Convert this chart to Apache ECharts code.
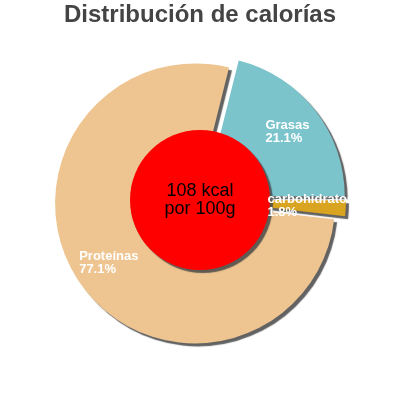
<!DOCTYPE html>
<html>
<head>
<meta charset="utf-8">
<script src="https://cdn.jsdelivr.net/npm/echarts@6/dist/echarts.min.js"></script>
<style>html,body{margin:0;padding:0;background:#fff}#c{width:400px;height:400px}</style>
</head>
<body>
<div id="c"></div>
<script>
const titleText = 'Distribución de calorías';
const categories = ['Grasas', 'carbohidratos', 'Proteínas'];
const percents = [21.1, 1.8, 77.1];
const colors = ['#7cc4cc', '#d9a521', '#eec591'];
const energyLines = ['108 kcal', 'por 100g'];
const energyValue = [108];

const FONT = '"Liberation Sans", Arial, sans-serif';
const CENTER = [200, 200];
const START = percents[0] * 3.6;

const slices = categories.map((c, i) => ({
  name: c, value: percents[i], selected: true,
  itemStyle: { color: colors[i] }
}));
const labelSlices = categories.map((c, i) => ({
  name: c, value: percents[i], selected: true
}));

const chart = echarts.init(document.getElementById('c'), null, { renderer: 'canvas' });
chart.setOption({
  animation: false,
  title: {
    text: titleText, left: 'center', top: 3, padding: 0,
    textStyle: { fontFamily: FONT, fontSize: 24, fontWeight: 'bold', color: '#444' }
  },
  series: [
    {
      type: 'pie', z: 1, silent: true,
      center: CENTER, radius: [64, 140],
      startAngle: START, clockwise: true,
      selectedMode: 'multiple', selectedOffset: 6,
      percentPrecision: 1,
      label: { show: false }, labelLine: { show: false },
      itemStyle: { shadowColor: 'rgba(70,70,70,0.85)', shadowBlur: 1, shadowOffsetX: 3, shadowOffsetY: 3 },
      emphasis: { disabled: true },
      data: slices
    },
    {
      type: 'pie', z: 2, silent: true,
      center: CENTER, radius: [0, 70],
      label: {
        show: true, position: 'center',
        formatter: energyLines.join('\n'),
        fontFamily: FONT, fontSize: 18, lineHeight: 18, color: '#000'
      },
      labelLine: { show: false },
      itemStyle: { color: '#ff0000', shadowColor: 'rgba(70,70,70,0.85)', shadowBlur: 1, shadowOffsetX: 3, shadowOffsetY: 3 },
      emphasis: { disabled: true },
      data: [{ name: energyLines.join(' '), value: energyValue[0] }]
    },
    {
      type: 'pie', z: 3, silent: true,
      center: CENTER, radius: [64, 140],
      startAngle: START, clockwise: true,
      selectedMode: 'multiple', selectedOffset: 6,
      percentPrecision: 1,
      itemStyle: { color: 'rgba(0,0,0,0)' },
      label: {
        show: true, position: 'inside',
        formatter: '{a|{b}}\n{a|{d}%}',
        rich: { a: { align: 'left', fontFamily: FONT, fontSize: 13, fontWeight: 'bold', lineHeight: 13, color: '#fff' } }
      },
      labelLine: { show: false },
      emphasis: { disabled: true },
      data: labelSlices
    }
  ]
});
</script>
</body>
</html>
